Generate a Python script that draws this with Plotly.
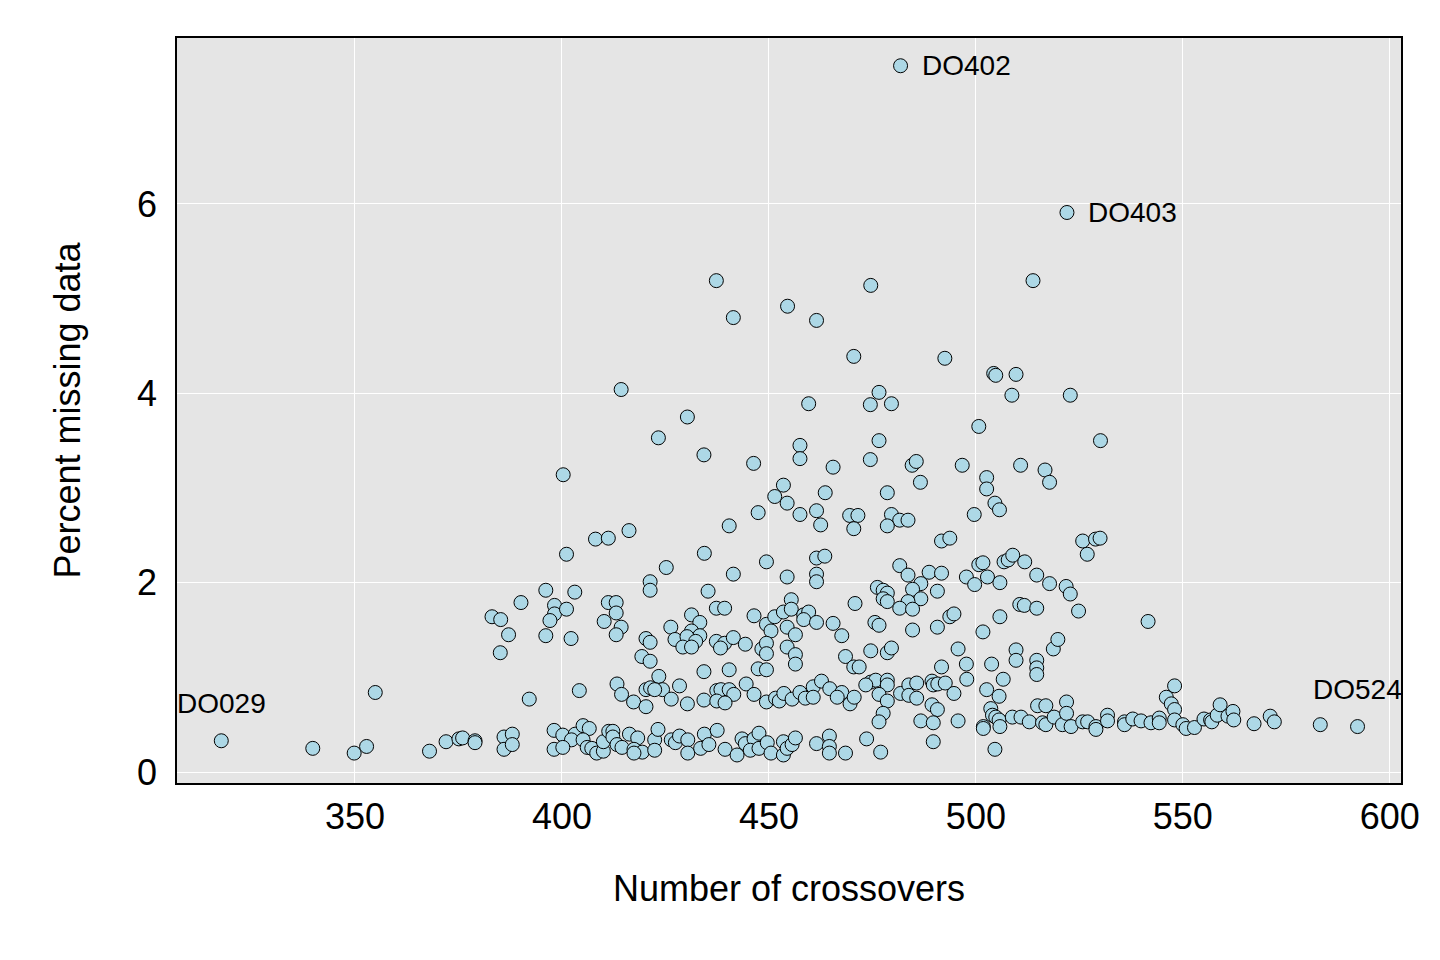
import plotly.graph_objects as go

# (crossovers, percent missing) pairs, by region

# outliers at the top
top_points = [
    (481.8, 7.46), (522.0, 5.91), (513.8, 5.19), (437.3, 5.19), (474.6, 5.14),
    (454.5, 4.92), (441.4, 4.80), (461.5, 4.77), (470.5, 4.39), (492.5, 4.37),
    (504.3, 4.21), (504.8, 4.19), (509.7, 4.20),
]

# 2.5 - 4 % band
upper_points = [
    (400.3, 3.14), (414.3, 4.04), (430.3, 3.75), (423.3, 3.53), (434.3, 3.35),
    (446.3, 3.26), (459.6, 3.89), (474.5, 3.88), (479.6, 3.89), (476.6, 4.01),
    (457.5, 3.45), (457.5, 3.31), (476.6, 3.50), (474.5, 3.30), (465.5, 3.22),
    (484.6, 3.24), (485.6, 3.28), (486.6, 3.06), (478.6, 2.95), (500.7, 3.65),
    (496.7, 3.24), (508.7, 3.98), (522.8, 3.98), (530.1, 3.50), (510.8, 3.24),
    (516.7, 3.19), (517.8, 3.06), (502.6, 3.11), (502.6, 2.99), (504.6, 2.84),
    (505.7, 2.77), (499.6, 2.72), (453.5, 3.03), (451.4, 2.91), (454.4, 2.84),
    (447.4, 2.74), (457.5, 2.72), (461.5, 2.76), (463.6, 2.95), (462.5, 2.61),
    (469.5, 2.71), (471.5, 2.71), (470.5, 2.57), (479.6, 2.72), (481.6, 2.66),
    (483.6, 2.66), (478.6, 2.60), (440.4, 2.60), (416.2, 2.55),
]

# 1 - 2.5 %, left half
mid_left_points = [
    (401.1, 2.30), (408.1, 2.46), (411.2, 2.47), (425.2, 2.16), (434.4, 2.31),
    (441.4, 2.09), (449.4, 2.22), (454.4, 2.06), (421.3, 2.01), (421.3, 1.92),
    (396.1, 1.92), (403.1, 1.90), (390.1, 1.79), (398.2, 1.76), (398.2, 1.67),
    (397.1, 1.60), (401.1, 1.72), (396.1, 1.44), (402.2, 1.41), (383.1, 1.64),
    (385.2, 1.61), (387.1, 1.45), (385.1, 1.26), (435.3, 1.91), (411.2, 1.79),
    (413.1, 1.79), (413.1, 1.68), (410.2, 1.59), (414.3, 1.53), (413.1, 1.45),
    (437.3, 1.73), (439.3, 1.73), (446.4, 1.65), (431.3, 1.66), (433.3, 1.58),
    (426.3, 1.53), (431.3, 1.49), (433.3, 1.44), (427.3, 1.40), (430.2, 1.43),
    (432.3, 1.38), (429.2, 1.32), (431.3, 1.32), (420.3, 1.41), (421.3, 1.37),
    (419.3, 1.22), (421.3, 1.17), (437.3, 1.38), (439.3, 1.36), (438.3, 1.31),
    (441.4, 1.42), (444.3, 1.35), (449.4, 1.56), (450.5, 1.49), (451.4, 1.64),
    (453.5, 1.69), (455.4, 1.82), (455.4, 1.72), (454.4, 1.53), (456.4, 1.45),
    (448.3, 1.30), (449.4, 1.36), (449.4, 1.25), (454.4, 1.32), (456.4, 1.24),
    (456.4, 1.14), (434.3, 1.06), (440.4, 1.08), (447.4, 1.09), (449.4, 1.08),
]

# 1 - 2.5 %, right half
mid_right_points = [
    (461.5, 2.26), (463.5, 2.28), (491.7, 2.44), (493.7, 2.47), (525.8, 2.44),
    (528.9, 2.46), (530.0, 2.47), (526.9, 2.30), (461.5, 2.09), (461.5, 2.01),
    (481.6, 2.18), (483.6, 2.08), (488.7, 2.11), (491.7, 2.10), (497.7, 2.06),
    (500.7, 2.19), (501.7, 2.21), (502.8, 2.06), (499.7, 1.98), (505.8, 2.00),
    (506.8, 2.22), (507.8, 2.24), (508.9, 2.29), (511.8, 2.22), (514.7, 2.08),
    (517.8, 1.99), (521.8, 1.96), (522.8, 1.88), (524.8, 1.70), (476.2, 1.95),
    (477.6, 1.92), (478.6, 1.89), (477.6, 1.83), (478.6, 1.80), (486.7, 1.99),
    (484.7, 1.93), (486.7, 1.83), (490.7, 1.91), (483.6, 1.80), (481.6, 1.73),
    (484.7, 1.72), (470.8, 1.78), (458.4, 1.66), (459.6, 1.69), (458.4, 1.61),
    (461.5, 1.58), (465.5, 1.57), (467.6, 1.44), (475.6, 1.58), (476.6, 1.55),
    (484.7, 1.50), (490.7, 1.53), (493.7, 1.64), (494.7, 1.67), (505.8, 1.64),
    (501.7, 1.48), (510.6, 1.77), (511.7, 1.76), (514.7, 1.73), (468.5, 1.22),
    (470.5, 1.11), (471.8, 1.11), (474.6, 1.28), (478.6, 1.26), (479.6, 1.31),
    (491.7, 1.11), (495.7, 1.30), (497.7, 1.14), (503.8, 1.14), (509.7, 1.29),
    (509.7, 1.18), (514.7, 1.18), (518.7, 1.30), (519.8, 1.40), (514.7, 1.10),
    (541.6, 1.59),
]

# below 1 %, left of 407
low_left_points = [
    (317.7, 0.33), (339.8, 0.25), (349.8, 0.20), (352.8, 0.27), (354.9, 0.84),
    (368.0, 0.22), (372.0, 0.32), (375.1, 0.35), (376.0, 0.36), (379.0, 0.33),
    (379.0, 0.31), (392.1, 0.77), (386.0, 0.37), (388.0, 0.40), (386.0, 0.24),
    (388.0, 0.29), (404.2, 0.86), (398.1, 0.44), (400.2, 0.39), (403.2, 0.40),
    (405.1, 0.49), (406.6, 0.46), (402.3, 0.34), (405.1, 0.34), (398.1, 0.24),
    (400.2, 0.26), (406.1, 0.26), (407.2, 0.25),
]

# below 1 %, 407 - 475
low_mid_points = [
    (413.3, 0.93), (414.4, 0.82), (417.3, 0.74), (420.3, 0.69), (420.3, 0.87),
    (421.4, 0.89), (423.4, 1.01), (424.3, 0.87), (422.4, 0.87), (426.4, 0.77),
    (428.4, 0.91), (430.3, 0.72), (434.3, 0.76), (437.4, 0.86), (438.4, 0.87),
    (440.4, 0.87), (441.5, 0.82), (437.4, 0.75), (439.4, 0.73), (444.5, 0.93),
    (446.4, 0.82), (449.4, 0.74), (451.6, 0.78), (452.5, 0.75), (453.6, 0.83),
    (455.6, 0.77), (457.5, 0.84), (458.8, 0.78), (460.7, 0.90), (460.7, 0.79),
    (462.7, 0.96), (464.7, 0.88), (467.6, 0.84), (466.5, 0.79), (469.6, 0.72),
    (470.6, 0.79),
    (408.4, 0.20), (410.0, 0.22), (410.0, 0.32), (411.3, 0.43), (412.3, 0.43),
    (412.3, 0.37), (413.3, 0.29), (414.5, 0.26), (416.3, 0.40), (418.3, 0.36),
    (417.4, 0.24), (419.4, 0.21), (417.4, 0.20), (422.4, 0.34), (422.4, 0.23),
    (423.2, 0.45), (426.4, 0.34), (427.4, 0.31), (428.4, 0.38), (430.4, 0.34),
    (430.4, 0.20), (433.5, 0.25), (434.4, 0.40), (435.5, 0.29), (437.5, 0.44),
    (439.4, 0.24), (442.3, 0.18), (443.5, 0.35), (444.3, 0.30), (446.4, 0.35),
    (447.6, 0.41), (445.5, 0.23), (447.6, 0.25), (449.6, 0.31), (450.5, 0.20),
    (453.5, 0.32), (453.5, 0.18), (454.4, 0.25), (455.6, 0.29), (456.4, 0.36),
    (461.5, 0.30), (464.6, 0.38), (464.6, 0.27), (464.6, 0.20), (468.5, 0.20),
    (473.6, 0.35), (477.0, 0.21),
]

# below 1 %, right of 473
low_right_points = [
    (474.6, 0.95), (475.8, 0.97), (478.6, 0.97), (478.6, 0.92), (473.4, 0.92),
    (476.6, 0.82), (478.6, 0.75), (477.6, 0.62), (476.6, 0.53), (481.8, 0.83),
    (483.8, 0.92), (483.8, 0.81), (485.7, 0.94), (485.7, 0.78), (497.8, 0.98),
    (514.7, 1.03), (489.4, 0.96), (489.7, 0.92), (490.8, 0.93), (492.6, 0.94),
    (494.7, 0.83), (489.4, 0.71), (490.7, 0.66), (486.7, 0.54), (489.7, 0.52),
    (495.7, 0.54), (489.7, 0.32), (506.6, 0.98), (502.6, 0.87), (505.6, 0.80),
    (503.6, 0.67), (504.0, 0.60), (504.8, 0.58), (505.6, 0.55), (501.8, 0.48),
    (501.8, 0.46), (505.8, 0.48), (504.6, 0.24), (508.8, 0.58), (510.9, 0.58),
    (512.9, 0.53), (514.9, 0.70), (516.9, 0.70), (516.1, 0.52), (516.9, 0.50),
    (518.9, 0.58), (520.9, 0.50), (521.9, 0.74), (521.9, 0.62), (523.0, 0.48),
    (525.8, 0.53), (527.0, 0.53), (529.0, 0.48), (529.0, 0.45), (531.8, 0.60),
    (531.8, 0.54), (535.9, 0.53), (535.9, 0.50), (537.9, 0.56), (539.9, 0.54),
    (542.3, 0.52), (544.3, 0.57), (544.3, 0.52),
    (546.0, 0.79), (548.0, 0.91), (547.2, 0.72), (548.0, 0.66), (548.0, 0.55),
    (550.0, 0.50), (550.8, 0.46), (552.8, 0.47), (555.1, 0.56), (556.7, 0.55),
    (557.0, 0.53), (558.3, 0.60), (559.0, 0.71), (560.9, 0.59), (562.1, 0.64),
    (562.3, 0.55), (567.2, 0.51), (571.1, 0.59), (572.1, 0.53), (583.2, 0.50),
    (592.2, 0.48),
]

# labelled mice: (id, crossovers, percent missing, where the label goes)
labelled = [
    ("DO402", 481.8, 7.46, "right"),
    ("DO403", 522.0, 5.91, "right"),
    ("DO029", 317.7, 0.33, "above"),
    ("DO524", 592.2, 0.48, "above"),
]

all_points = (top_points + upper_points + mid_left_points + mid_right_points
              + low_left_points + low_mid_points + low_right_points)
crossovers = [p[0] for p in all_points]
pct_missing = [p[1] for p in all_points]

fig = go.Figure()
fig.add_trace(go.Scatter(
    x=crossovers,
    y=pct_missing,
    mode="markers",
    marker=dict(size=14, color="lightblue", line=dict(color="black", width=1)),
    hoverinfo="x+y",
    showlegend=False,
))

# labels for the odd ones
for name, lx, ly, where in labelled:
    if where == "right":
        fig.add_annotation(x=lx, y=ly, text=name, showarrow=False,
                           xanchor="left", yanchor="middle", xshift=19)
    else:
        fig.add_annotation(x=lx, y=ly, text=name, showarrow=False,
                           xanchor="center", yanchor="middle", yshift=37)

fig.update_annotations(font=dict(size=28, color="black"))

axis_common = dict(
    showgrid=True,
    gridcolor="white",
    gridwidth=1,
    zeroline=False,
    showline=True,
    linecolor="black",
    linewidth=1.5,
    mirror=True,
    ticks="outside",
    tickcolor="rgba(0,0,0,0)",
    tickfont=dict(size=36, color="black"),
)

# the page body adds an 8px offset, so margins are trimmed on the left/top
fig.update_layout(
    width=1440,
    height=960,
    margin=dict(l=169, r=47, t=30, b=185),
    paper_bgcolor="white",
    plot_bgcolor="#e5e5e5",
    font=dict(family="Liberation Sans, Arial, sans-serif", color="black"),
    xaxis=dict(
        axis_common,
        range=[307.0, 602.7],
        tickvals=[350, 400, 450, 500, 550, 600],
        ticklen=1,
        title=dict(text="Number of crossovers", font=dict(size=36), standoff=40),
    ),
    yaxis=dict(
        axis_common,
        range=[-0.116, 7.753],
        tickvals=[0, 2, 4, 6],
        ticklen=11,
        title=dict(text="Percent missing data", font=dict(size=36), standoff=45),
    ),
)

fig.write_html("out.html")
